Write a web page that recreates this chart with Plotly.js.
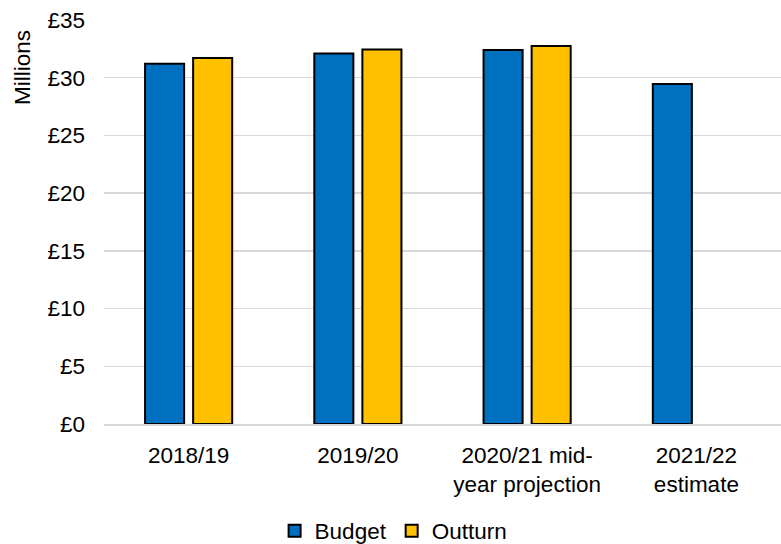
<!DOCTYPE html>
<html>
<head>
<meta charset="utf-8">
<script src="https://cdn.plot.ly/plotly-3.0.1.min.js"></script>
<style>html,body{margin:0;padding:0;background:#fff;}</style>
</head>
<body>
<div id="chart" style="width:781px;height:544px;"></div>
<script>
const categories = ["2018/19", "2019/20", "2020/21 mid-<br>year projection", "2021/22<br>estimate"];
const budget = [31.2, 32.1, 32.4, 29.45];
const outturn = [31.7, 32.45, 32.75, null];
const yTickVals = [0, 5, 10, 15, 20, 25, 30, 35];
const yTickText = ["£0", "£5", "£10", "£15", "£20", "£25", "£30", "£35"];
const yTitle = "Millions";

const font = {family: "Liberation Sans, Arial, sans-serif", size: 22.5, color: "#000"};

const traces = [
  {type: "bar", name: "Budget", x: categories, y: budget,
   marker: {color: "#0070C0", line: {color: "#000", width: 2}}, hoverinfo: "y"},
  {type: "bar", name: "Outturn", x: categories, y: outturn,
   marker: {color: "#FFC000", line: {color: "#000", width: 2}}, hoverinfo: "y"}
];

const layout = {
  width: 781, height: 544,
  margin: {l: 104, r: 0, t: 20, b: 120, autoexpand: false},
  paper_bgcolor: "#fff", plot_bgcolor: "#fff",
  font: font,
  barmode: "group",
  bargap: 0.432,
  bargroupgap: 0.1875,
  showlegend: true,
  legend: {orientation: "h", x: 0.252, xanchor: "left", y: -0.265, yanchor: "middle",
           font: font, itemwidth: 30, traceorder: "normal"},
  xaxis: {type: "category", showline: true, linecolor: "#d9d9d9", linewidth: 1.5, automargin: false,
          ticks: "", tickfont: font, showgrid: false, ticklabelstandoff: 10},
  yaxis: {range: [0, 35], tickvals: yTickVals, ticktext: yTickText, automargin: false,
          showgrid: true, gridcolor: "#d9d9d9", gridwidth: 1.5, zeroline: false,
          showline: false, ticks: "", tickfont: font, ticklabelstandoff: 18},
  annotations: [{text: yTitle, xref: "paper", yref: "paper",
                 x: (22 - 104) / 677, y: (424 - 68) / 404, xanchor: "center", yanchor: "middle",
                 textangle: -90, showarrow: false, font: font}]
};

Plotly.newPlot("chart", traces, layout, {displayModeBar: false, staticPlot: true});
</script>
</body>
</html>
